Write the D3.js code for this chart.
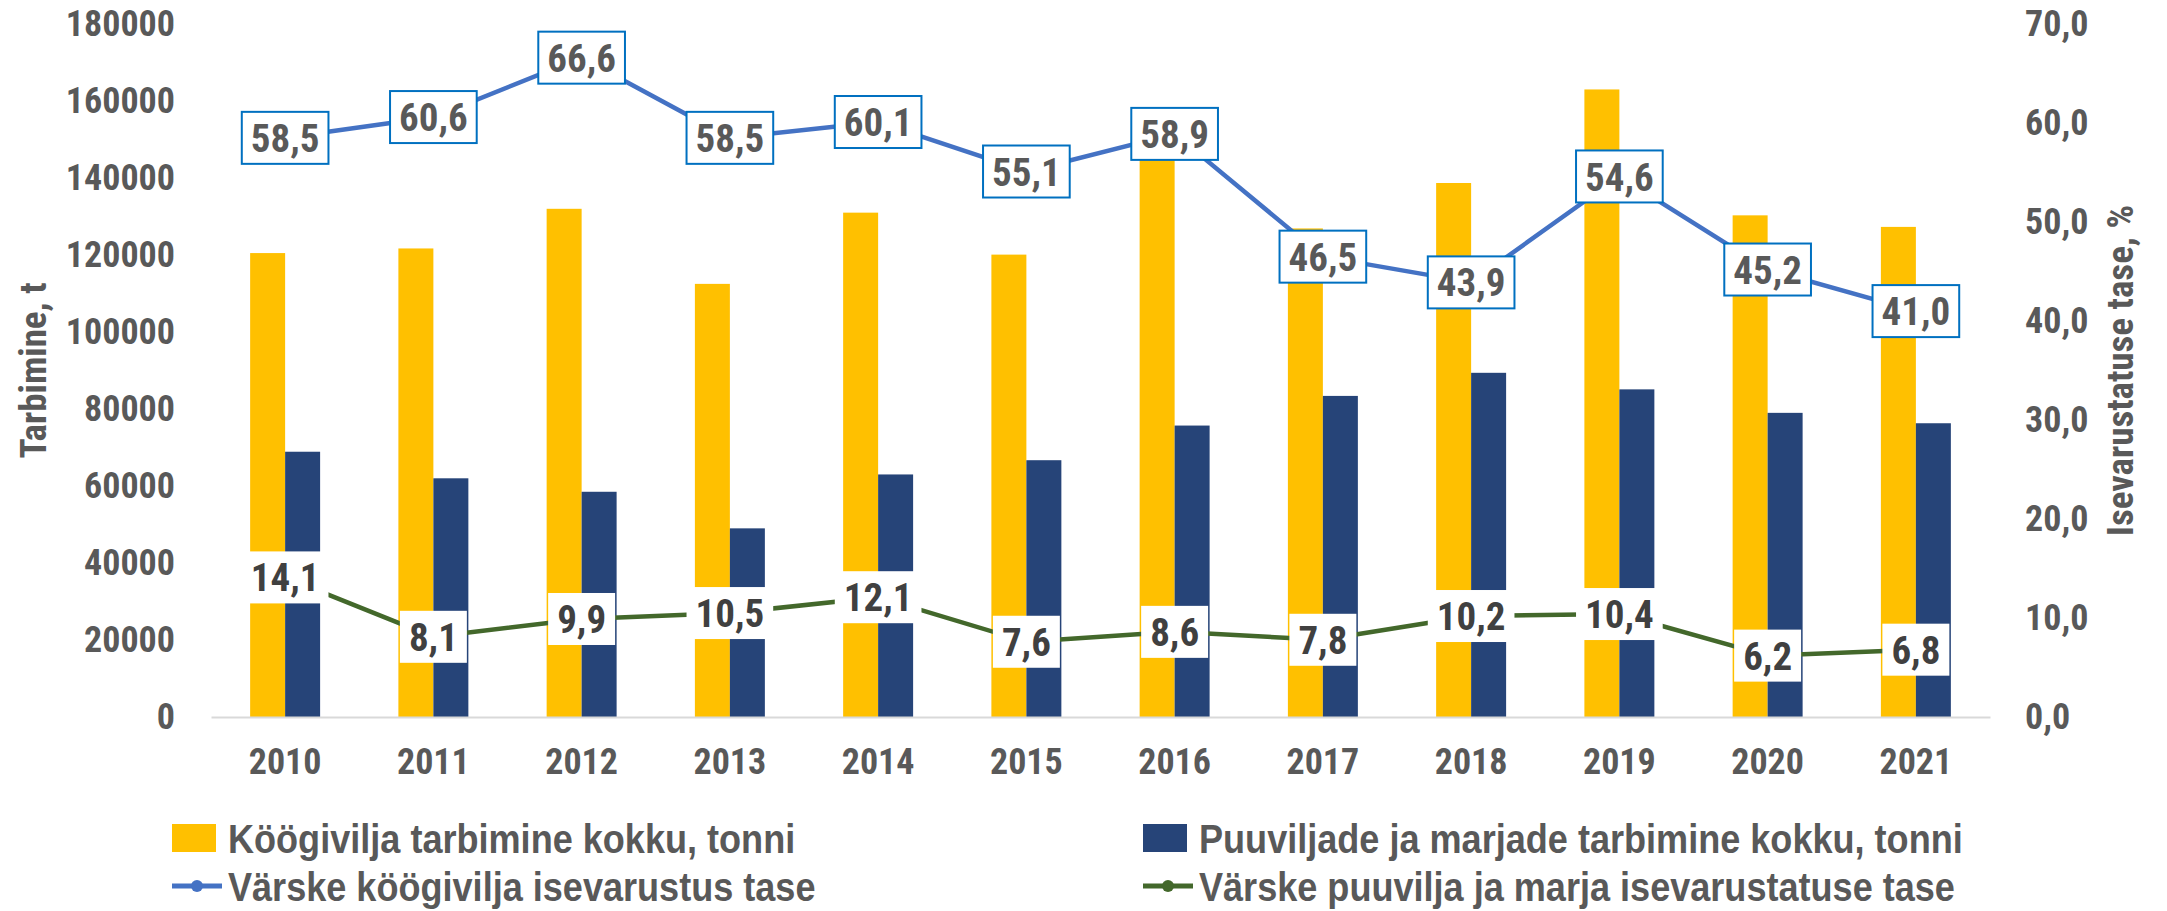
<!DOCTYPE html>
<html lang="et">
<head>
<meta charset="UTF-8">
<title>Tarbimine ja isevarustatus</title>
<script src="https://cdn.jsdelivr.net/npm/d3@7"></script>
<style>
  body { margin: 0; background: #fff; }
  svg text { font-family: "Roboto Condensed", Roboto, sans-serif; font-weight: bold; font-stretch: condensed; }
  .axis text { fill: #595959; font-size: 36px; }
  .axis line { display: none; }
  .title { fill: #595959; font-size: 37px; }
  .legend text { font-family: "Liberation Sans", Arial, sans-serif; font-stretch: normal; font-size: 41px; fill: #595959; }
</style>
</head>
<body>
<script>
var years = ["2010", "2011", "2012", "2013", "2014", "2015", "2016", "2017", "2018", "2019", "2020", "2021"];
var koogivili = [120500, 121700, 132000, 112500, 131000, 120100, 148000, 126900, 138700, 163000, 130300, 127300];
var puuviljad = [68900, 62000, 58500, 49000, 63000, 66700, 75700, 83400, 89400, 85100, 79000, 76300];
var koogiviljaTase = [58.5, 60.6, 66.6, 58.5, 60.1, 55.1, 58.9, 46.5, 43.9, 54.6, 45.2, 41.0];
var puuviljaTase = [14.1, 8.1, 9.9, 10.5, 12.1, 7.6, 8.6, 7.8, 10.2, 10.4, 6.2, 6.8];
var leftTicks = [0, 20000, 40000, 60000, 80000, 100000, 120000, 140000, 160000, 180000];
var rightTicks = [0, 10, 20, 30, 40, 50, 60, 70];
var legendLabels = [
  "Köögivilja tarbimine kokku, tonni",
  "Puuviljade ja marjade tarbimine kokku, tonni",
  "Värske köögivilja isevarustus tase",
  "Värske puuvilja ja marja isevarustatuse tase"
];

var w = 2167, h = 911;
var plotLeft = 211, plotRight = 1990, plotTop = 24, plotBottom = 717;

var svg = d3.select("body").append("svg")
  .attr("width", w)
  .attr("height", h);

var x = d3.scaleBand().domain(years).range([plotLeft, plotRight]);
var yLeft = d3.scaleLinear().domain([0, 180000]).range([plotBottom, plotTop]);
var yRight = d3.scaleLinear().domain([0, 70]).range([plotBottom, plotTop]);
var bw = x.bandwidth() * 0.236;
var comma = d => d3.format(".1f")(d).replace(".", ",");

// bars
svg.append("g").selectAll("rect")
  .data(koogivili)
  .enter().append("rect")
  .attr("x", (d, i) => x(years[i]) + x.bandwidth() / 2 - bw)
  .attr("y", d => yLeft(d))
  .attr("width", bw)
  .attr("height", d => plotBottom - yLeft(d))
  .attr("fill", "#FFC000");

svg.append("g").selectAll("rect")
  .data(puuviljad)
  .enter().append("rect")
  .attr("x", (d, i) => x(years[i]) + x.bandwidth() / 2)
  .attr("y", d => yLeft(d))
  .attr("width", bw)
  .attr("height", d => plotBottom - yLeft(d))
  .attr("fill", "#264478");

// axes
var xAxis = svg.append("g").attr("class", "axis")
  .attr("transform", "translate(0," + plotBottom + ")")
  .call(d3.axisBottom(x).tickSize(0).tickSizeOuter(0).tickPadding(31));
xAxis.select(".domain").attr("stroke", "#D9D9D9").attr("stroke-width", 2);

svg.append("g").attr("class", "axis")
  .attr("transform", "translate(" + plotLeft + ",0)")
  .call(d3.axisLeft(yLeft).tickValues(leftTicks).tickFormat(d3.format("d")).tickSize(0).tickPadding(36))
  .select(".domain").remove();

svg.append("g").attr("class", "axis")
  .attr("transform", "translate(" + plotRight + ",0)")
  .call(d3.axisRight(yRight).tickValues(rightTicks).tickFormat(comma).tickSize(0).tickPadding(35))
  .select(".domain").remove();

svg.append("text").attr("class", "title")
  .attr("transform", "translate(46," + (plotTop + plotBottom) / 2 + ") rotate(-90)")
  .attr("text-anchor", "middle")
  .text("Tarbimine, t");

svg.append("text").attr("class", "title")
  .attr("transform", "translate(2133," + (plotTop + plotBottom) / 2 + ") rotate(-90)")
  .attr("text-anchor", "middle")
  .text("Isevarustatuse tase, %");

// lines
var cx = (d, i) => x(years[i]) + x.bandwidth() / 2;
function drawLine(values, color) {
  var line = d3.line().x(cx).y(d => yRight(d));
  svg.append("path").datum(values)
    .attr("d", line)
    .attr("fill", "none")
    .attr("stroke", color)
    .attr("stroke-width", 4.5)
    .attr("stroke-linejoin", "round");
  svg.append("g").selectAll("circle").data(values).enter().append("circle")
    .attr("cx", cx).attr("cy", d => yRight(d)).attr("r", 6).attr("fill", color);
}
drawLine(koogiviljaTase, "#4472C4");
drawLine(puuviljaTase, "#43682B");

// data labels
function drawLabels(values, border, color) {
  var g = svg.append("g").selectAll("g").data(values).enter().append("g")
    .attr("transform", (d, i) => "translate(" + cx(d, i) + "," + yRight(d) + ")");
  g.append("rect");
  var txt = g.append("text")
    .attr("text-anchor", "middle")
    .attr("dy", "0.36em")
    .attr("font-size", 39)
    .attr("fill", color)
    .text(comma);
  txt.each(function() {
    var b = this.getBBox();
    var pw = b.width + 18;
    d3.select(this.previousSibling)
      .attr("x", -pw / 2).attr("y", -26)
      .attr("width", pw).attr("height", 52)
      .attr("fill", "#fff")
      .attr("stroke", border || "none")
      .attr("stroke-width", 2);
  });
}
drawLabels(koogiviljaTase, "#0070C0", "#595959");
drawLabels(puuviljaTase, null, "#404040");

// legend
var legend = svg.append("g").attr("class", "legend");
var lx = [172, 1143], ly = [838, 886];
legendLabels.forEach(function(t, i) {
  var col = i % 2, row = Math.floor(i / 2);
  var g = legend.append("g").attr("transform", "translate(" + lx[col] + "," + ly[row] + ")");
  if (row === 0) {
    g.append("rect").attr("x", 0).attr("y", -14).attr("width", 44).attr("height", 28)
      .attr("fill", col === 0 ? "#FFC000" : "#264478");
  } else {
    var c = col === 0 ? "#4472C4" : "#43682B";
    g.append("line").attr("x1", 0).attr("x2", 50).attr("y1", 0).attr("y2", 0)
      .attr("stroke", c).attr("stroke-width", 5);
    g.append("circle").attr("cx", 25).attr("cy", 0).attr("r", 6).attr("fill", c);
  }
  g.append("text").attr("transform", "translate(56,0) scale(0.88,1)").attr("dy", "0.36em").text(t);
});
</script>
</body>
</html>
